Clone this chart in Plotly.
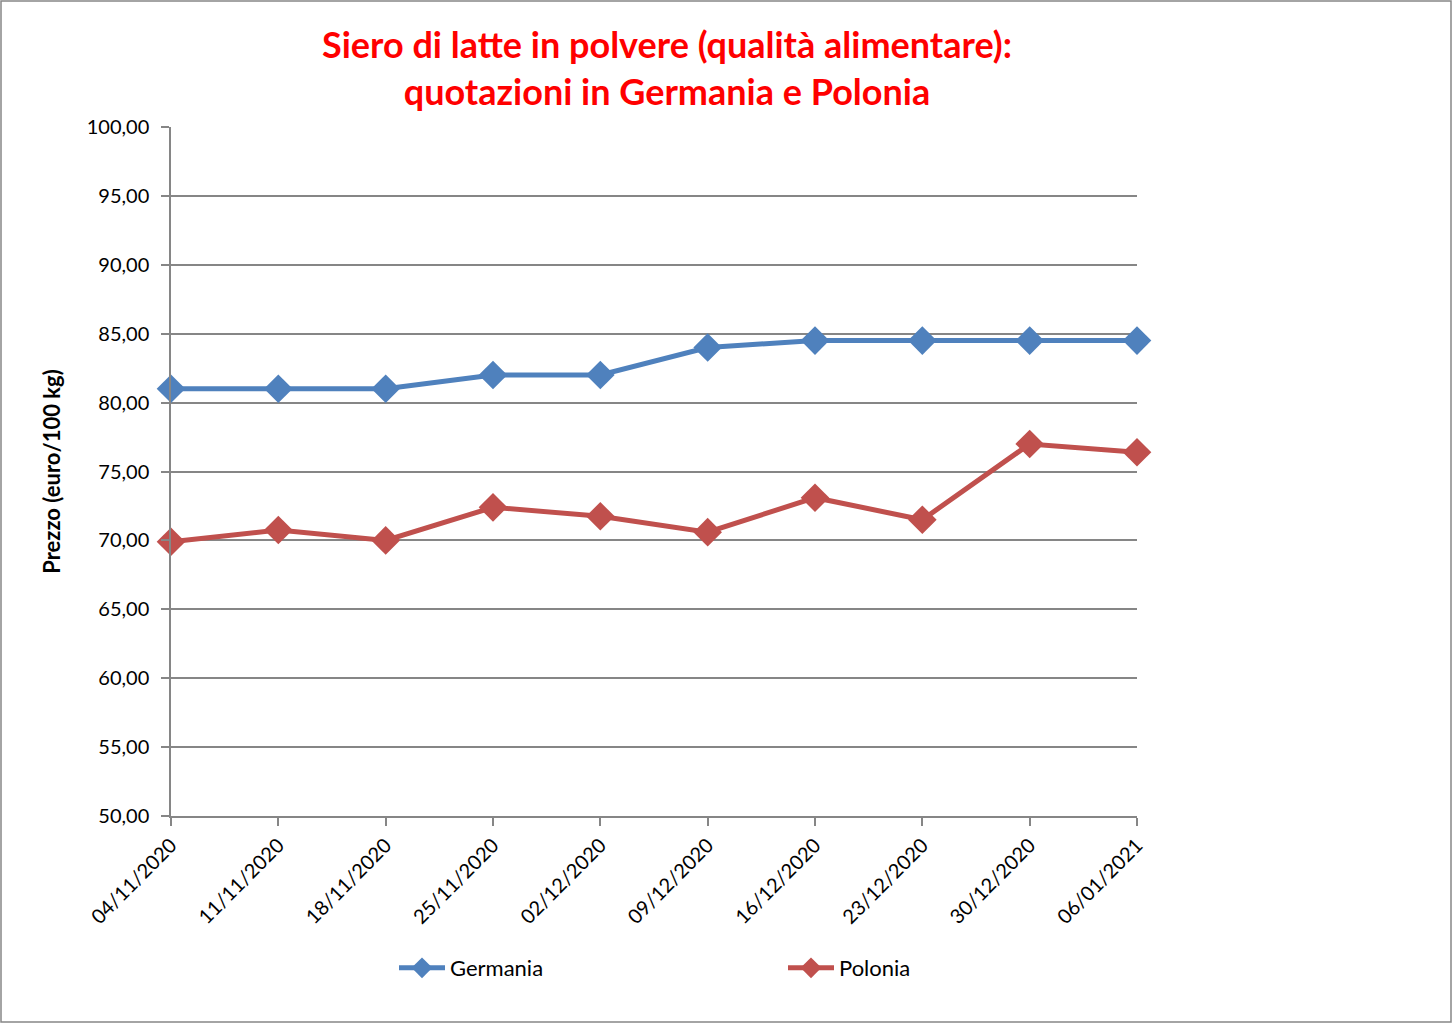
import plotly.graph_objects as go

dates = ["04/11/2020", "11/11/2020", "18/11/2020", "25/11/2020", "02/12/2020",
         "09/12/2020", "16/12/2020", "23/12/2020", "30/12/2020", "06/01/2021"]
germania = [81.0, 81.0, 81.0, 82.0, 82.0, 84.0, 84.5, 84.5, 84.5, 84.5]
polonia = [69.9, 70.75, 70.0, 72.4, 71.75, 70.6, 73.1, 71.5, 77.0, 76.4]
y_ticks = [50, 55, 60, 65, 70, 75, 80, 85, 90, 95, 100]

FONT = "Lato, Open Sans, sans-serif"
W, H = 1453, 1024
L, R, T, B = 171, 1137, 127, 816

fig = go.Figure()
fig.add_trace(go.Scatter(x=list(range(len(dates))), y=germania, name="Germania",
                         mode="lines+markers", cliponaxis=False,
                         line=dict(color="#4F81BD", width=5),
                         marker=dict(symbol="diamond", size=22, color="#4F81BD")))
fig.add_trace(go.Scatter(x=list(range(len(dates))), y=polonia, name="Polonia",
                         mode="lines+markers", cliponaxis=False,
                         line=dict(color="#C0504D", width=5),
                         marker=dict(symbol="diamond", size=22, color="#C0504D")))

pw, ph = R - L, B - T
def px(x): return (x - L) / pw
def py(y): return (B - y) / ph

fig.add_shape(type="rect", xref="paper", yref="paper",
              x0=px(1), x1=px(W - 2), y0=py(H - 2), y1=py(1),
              line=dict(color="#868686", width=1.5), fillcolor="rgba(0,0,0,0)", layer="below")

fig.update_layout(
    width=W, height=H,
    margin=dict(l=L, r=W - R, t=T, b=H - B),
    paper_bgcolor="white", plot_bgcolor="white",
    separators=",.",
    font=dict(family=FONT, size=20, color="black"),
    title=dict(text="<b>Siero di latte in polvere (qualità alimentare):<br>quotazioni in Germania e Polonia</b>",
               x=px(667), xref="paper", xanchor="center", y=1 - 58 / H, yanchor="middle",
               font=dict(family=FONT, size=36, color="#FF0000")),
    xaxis=dict(range=[0, len(dates) - 1], tickmode="array",
               tickvals=list(range(len(dates))), ticktext=dates,
               tickangle=-45, ticks="outside", ticklen=8, tickcolor="#868686", tickwidth=1.5,
               showline=True, linecolor="#868686", linewidth=1.5, showgrid=False,
               zeroline=False, tickfont=dict(size=20)),
    yaxis=dict(range=[50, 100], tickmode="array", tickvals=y_ticks, tickformat=".2f",
               ticks="outside", ticklen=8, tickcolor="#868686", tickwidth=1.5,
               showline=True, linecolor="#868686", linewidth=1.5,
               showgrid=True, gridcolor="#868686", gridwidth=2, zeroline=False,
               ticklabelstandoff=8,
               title=dict(text="<b>Prezzo (euro/100 kg)</b>", font=dict(size=22), standoff=20),
               tickfont=dict(size=20)),
    legend=dict(orientation="h", x=px(394), xanchor="left", y=py(968), yanchor="middle",
                entrywidth=328, entrywidthmode="pixels", font=dict(size=22),
                itemwidth=46, bgcolor="rgba(0,0,0,0)"),
    showlegend=True,
)

fig.write_html("out.html", config={"displayModeBar": False},
               post_script="document.body.style.margin='0';document.body.style.overflow='hidden';")
